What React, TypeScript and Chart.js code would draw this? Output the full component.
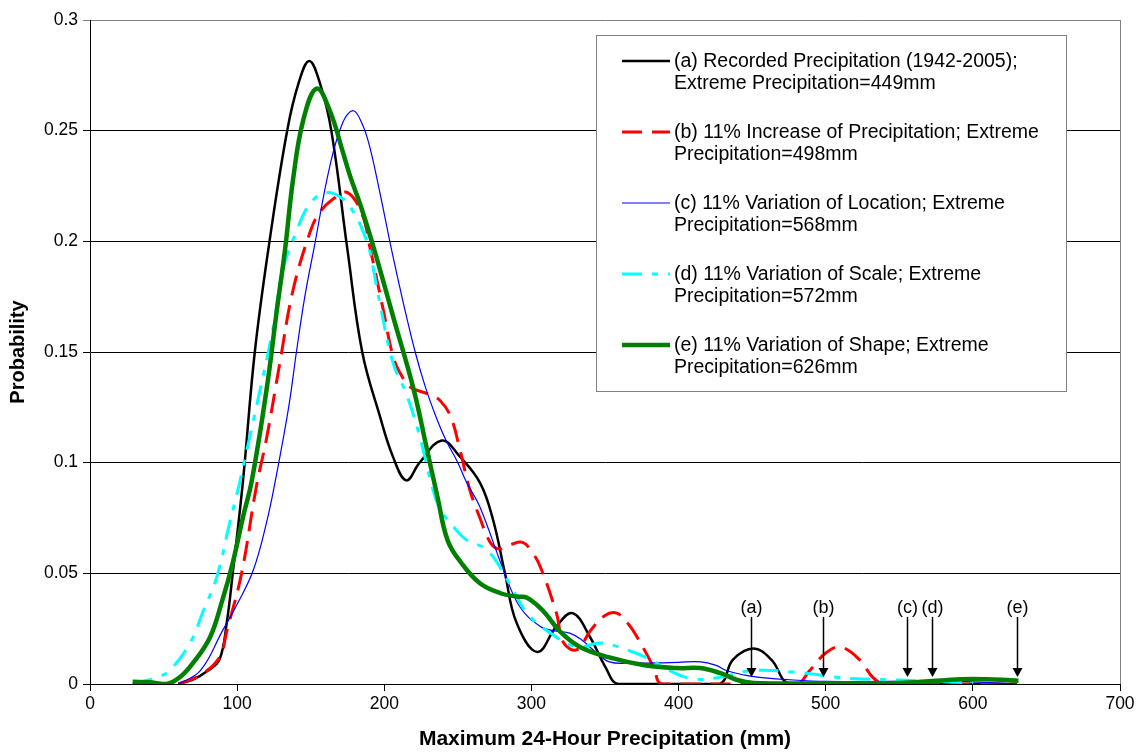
import React, { useEffect, useRef } from "react";
import { Chart, registerables } from "chart.js";

Chart.register(...registerables);

const FONT = '"Liberation Sans", Arial, Helvetica, sans-serif';

// (a) Recorded precipitation
const xA = [60, 70, 80, 88, 93, 97, 104, 112, 122, 134, 142, 149, 156, 164, 175, 185, 197, 206, 215, 224, 239, 251, 265, 274, 282, 290, 304, 317, 328, 340, 350, 359, 400, 428, 437, 451, 463, 476, 550, 630];
const yA = [0, 0.002, 0.006, 0.011, 0.028, 0.050, 0.092, 0.150, 0.200, 0.250, 0.272, 0.2815, 0.272, 0.250, 0.196, 0.150, 0.121, 0.1025, 0.092, 0.100, 0.110, 0.103, 0.091, 0.074, 0.050, 0.0275, 0.0145, 0.026, 0.032, 0.021, 0.008, 0, 0, 0, 0.011, 0.016, 0.011, 0, 0, 0];

// (b) 11% increase of precipitation
const xB = [60, 75, 88, 93, 103, 113, 120, 129, 138, 150, 156, 165, 175, 185, 190, 199, 206, 212, 218, 230, 238, 245, 251, 258, 265, 272, 278, 286, 294, 300, 306, 317, 322, 331, 340, 350, 358, 366, 372, 383, 389, 480, 489, 500, 510, 523, 532, 540, 630];
const yB = [0, 0.004, 0.012, 0.024, 0.050, 0.089, 0.111, 0.145, 0.178, 0.205, 0.213, 0.219, 0.222, 0.212, 0.198, 0.170, 0.148, 0.139, 0.134, 0.131, 0.128, 0.121, 0.107, 0.088, 0.075, 0.064, 0.061, 0.063, 0.064, 0.060, 0.053, 0.032, 0.0185, 0.0155, 0.024, 0.031, 0.032, 0.027, 0.021, 0.0077, 0, 0, 0.006, 0.014, 0.0167, 0.011, 0.003, 0, 0];

// (c) 11% variation of location
const xC = [60, 75, 90, 100, 111, 120, 126, 135, 140.5, 146, 152, 163, 172, 179, 185, 190, 197, 205, 213, 221, 228, 235, 242, 250, 256, 265, 281, 292, 306, 316, 326, 334, 342, 353, 370, 387, 400, 415, 425, 433, 445, 455, 478, 500, 550, 570, 600, 630];
const yC = [0, 0.006, 0.024, 0.036, 0.0515, 0.073, 0.092, 0.125, 0.151, 0.175, 0.196, 0.234, 0.254, 0.259, 0.253, 0.243, 0.222, 0.196, 0.172, 0.150, 0.134, 0.121, 0.110, 0.100, 0.091, 0.080, 0.0515, 0.035, 0.026, 0.024, 0.023, 0.020, 0.0154, 0.010, 0.0095, 0.0095, 0.0098, 0.010, 0.0085, 0.006, 0.004, 0.003, 0.0018, 0.0012, 0.0012, 0.0015, 0.001, 0];

// (d) 11% variation of scale
const xD = [29, 45.5, 54, 68, 77, 86, 95, 101, 104, 113, 124.5, 131, 140, 149.5, 161, 172, 181, 187, 190, 197, 206, 215, 224, 233, 238, 247, 256, 270, 285, 297, 313, 331, 347, 365, 381, 394, 410, 428, 449, 478, 512, 523, 550, 580, 600];
const yD = [0, 0.003, 0.006, 0.0185, 0.033, 0.048, 0.073, 0.089, 0.098, 0.125, 0.161, 0.187, 0.204, 0.217, 0.222, 0.219, 0.211, 0.202, 0.196, 0.172, 0.145, 0.131, 0.112, 0.088, 0.079, 0.071, 0.065, 0.0605, 0.0455, 0.032, 0.023, 0.0167, 0.0185, 0.0154, 0.011, 0.006, 0.0023, 0.003, 0.006, 0.0054, 0.0027, 0.0023, 0.0018, 0.001, 0.0005];

// (e) 11% variation of shape
const xE = [29, 40, 52, 61, 70, 81.5, 90, 97, 104, 110, 120, 127, 132.5, 138, 145, 154, 163, 172, 177, 183.5, 192, 206, 220, 229, 236, 243, 252, 265, 279, 290, 297, 308, 319, 333, 353, 376, 399, 414.5, 428, 440, 451, 500, 550, 575, 600, 631];
const yE = [0.001, 0.0008, 0, 0.003, 0.0095, 0.021, 0.038, 0.0547, 0.0755, 0.092, 0.133, 0.169, 0.196, 0.228, 0.255, 0.269, 0.259, 0.240, 0.229, 0.217, 0.199, 0.166, 0.133, 0.106, 0.085, 0.065, 0.055, 0.0455, 0.041, 0.0395, 0.039, 0.033, 0.024, 0.0167, 0.012, 0.0086, 0.0072, 0.0072, 0.005, 0.0018, 0.0005, 0.0003, 0.0005, 0.0015, 0.0023, 0.0015];

const legendText = [
  ["(a) Recorded Precipitation (1942-2005);", "Extreme Precipitation=449mm"],
  ["(b) 11% Increase of Precipitation; Extreme", "Precipitation=498mm"],
  ["(c) 11% Variation of Location; Extreme", "Precipitation=568mm"],
  ["(d) 11% Variation of Scale; Extreme", "Precipitation=572mm"],
  ["(e) 11% Variation of Shape; Extreme", "Precipitation=626mm"],
];

const arrowX = [449, 498, 555, 572, 630];
const arrowLabels = ["(a)", "(b)", "(c)", "(d)", "(e)"];
const arrowTop = 0.0303;
const arrowTip = 0.0032;

const xTicksMin = 0;
const xTicksMax = 700;
const xStep = 100;
const yTicksMin = 0;
const yTicksMax = 0.3;
const yStep = 0.05;

const toPts = (xs: number[], ys: number[]) => xs.map((x, i) => ({ x, y: ys[i] }));

const borderPlugin = {
  id: "plotBorder",
  beforeDatasetsDraw(chart: any) {
    const { ctx, chartArea } = chart;
    ctx.save();
    ctx.strokeStyle = "#808080";
    ctx.lineWidth = 1;
    ctx.beginPath();
    const rx = Math.round(chartArea.right) + 0.5;
    ctx.moveTo(rx, chartArea.top);
    ctx.lineTo(rx, chartArea.bottom);
    ctx.stroke();
    ctx.restore();
  },
};

const arrowPlugin = {
  id: "arrows",
  afterDatasetsDraw(chart: any) {
    const { ctx } = chart;
    const xs = chart.scales.x;
    const ys = chart.scales.y;
    ctx.save();
    arrowX.forEach((v, i) => {
      const px = Math.round(xs.getPixelForValue(v)) + 0.5;
      const top = ys.getPixelForValue(arrowTop);
      const tip = ys.getPixelForValue(arrowTip);
      ctx.strokeStyle = "#000";
      ctx.fillStyle = "#000";
      ctx.lineWidth = 1.5;
      ctx.beginPath();
      ctx.moveTo(px, top);
      ctx.lineTo(px, tip - 7);
      ctx.stroke();
      ctx.beginPath();
      ctx.moveTo(px, tip);
      ctx.lineTo(px - 5, tip - 9);
      ctx.lineTo(px + 5, tip - 9);
      ctx.closePath();
      ctx.fill();
      ctx.font = "18px " + FONT;
      ctx.textAlign = "center";
      ctx.textBaseline = "middle";
      ctx.fillText(arrowLabels[i], px, top - 9);
    });
    ctx.restore();
  },
};

const legendPlugin = {
  id: "boxLegend",
  afterDraw(chart: any) {
    const { ctx } = chart;
    ctx.save();
    const bx = 596.5, by = 35.5, bw = 470, bh = 356;
    ctx.fillStyle = "#fff";
    ctx.fillRect(bx, by, bw, bh);
    ctx.strokeStyle = "#808080";
    ctx.lineWidth = 1;
    ctx.strokeRect(bx, by, bw, bh);
    chart.data.datasets.forEach((ds: any, i: number) => {
      const cy = 61 + i * 71;
      ctx.beginPath();
      ctx.strokeStyle = ds.borderColor;
      ctx.lineWidth = ds.borderWidth;
      ctx.setLineDash(ds.borderDash || []);
      ctx.moveTo(622, cy);
      ctx.lineTo(670, cy);
      ctx.stroke();
      ctx.setLineDash([]);
      ctx.fillStyle = "#000";
      ctx.font = "19.5px " + FONT;
      ctx.textAlign = "left";
      ctx.textBaseline = "middle";
      legendText[i].forEach((t, j) => ctx.fillText(t, 674, cy + 1 + j * 22));
    });
    ctx.restore();
  },
};

export default function App() {
  const ref = useRef<HTMLCanvasElement | null>(null);

  useEffect(() => {
    if (!ref.current) return;
    const common = { pointRadius: 0, fill: false, tension: 0.4 };
    const chart = new Chart(ref.current, {
      type: "line",
      data: {
        datasets: [
          { ...common, label: legendText[0].join(" "), data: toPts(xA, yA), borderColor: "#000000", borderWidth: 2.5, order: 5 },
          { ...common, label: legendText[1].join(" "), data: toPts(xB, yB), borderColor: "#FF0000", borderWidth: 3, borderDash: [20, 10], order: 4 },
          { ...common, label: legendText[2].join(" "), data: toPts(xC, yC), borderColor: "#0000FF", borderWidth: 1.2, order: 3 },
          { ...common, label: legendText[3].join(" "), data: toPts(xD, yD), borderColor: "#00FFFF", borderWidth: 3, borderDash: [20, 10, 6, 10], order: 2 },
          { ...common, label: legendText[4].join(" "), data: toPts(xE, yE), borderColor: "#008000", borderWidth: 4.5, order: 1 },
        ],
      },
      options: {
        responsive: false,
        animation: false,
        layout: { padding: { top: 20, right: 18, left: 0, bottom: 0 } },
        plugins: { legend: { display: false }, tooltip: { enabled: false } },
        scales: {
          x: {
            type: "linear",
            min: xTicksMin,
            max: xTicksMax,
            afterFit: (s: any) => { s.height = 69; },
            ticks: { stepSize: xStep, maxRotation: 0, color: "#000", font: { family: FONT, size: 17.5 }, padding: 3 },
            grid: { drawOnChartArea: false, drawTicks: true, tickLength: 7, color: "#000" },
            border: { color: "#000", width: 1 },
            title: { display: true, text: "Maximum 24-Hour Precipitation (mm)", color: "#000", font: { family: FONT, size: 21, weight: "bold" }, padding: { top: 0, bottom: 1 } },
          },
          y: {
            type: "linear",
            min: yTicksMin,
            max: yTicksMax,
            afterFit: (s: any) => { s.width = 90; },
            ticks: {
              stepSize: yStep,
              color: "#000",
              font: { family: FONT, size: 17.5 },
              padding: 5,
              callback: (v: any) => String(Number(Number(v).toFixed(2))),
            },
            grid: {
              drawTicks: true,
              tickLength: 7,
              color: (c: any) => (c.tick && Math.abs(c.tick.value - yTicksMax) < 1e-9 ? "#808080" : "#000"),
              lineWidth: 1,
            },
            border: { color: "#000", width: 1 },
            title: { display: true, text: "Probability", color: "#000", font: { family: FONT, size: 20, weight: "bold" }, padding: { top: 6, bottom: 0 } },
          },
        },
      },
      plugins: [borderPlugin, arrowPlugin, legendPlugin],
    });
    return () => chart.destroy();
  }, []);

  return (
    <div style={{ position: "absolute", left: 0, top: 0, width: 1138, height: 753, background: "#fff" }}>
      <canvas ref={ref} width={1138} height={753} style={{ display: "block" }} />
    </div>
  );
}
